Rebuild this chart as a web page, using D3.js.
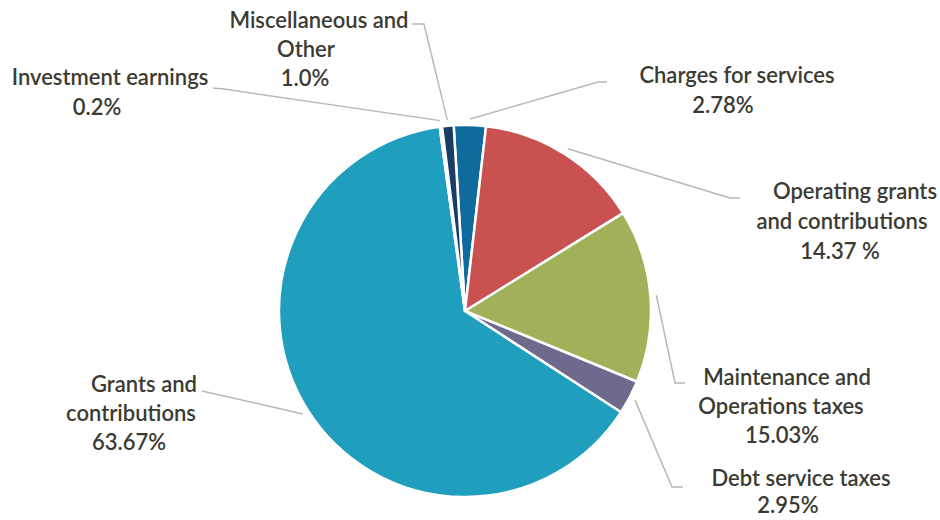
<!DOCTYPE html>
<html><head><meta charset="utf-8">
<script src="https://cdn.jsdelivr.net/npm/d3@7"></script>
<style>html,body{margin:0;padding:0;background:#fff;}svg{display:block;}</style>
</head><body>
<svg id="chart" width="940" height="520"></svg>
<script>
const categories = ["Charges for services","Operating grants and contributions","Maintenance and Operations taxes","Debt service taxes","Grants and contributions","Investment earnings","Miscellaneous and Other"];
const values = [2.78, 14.37, 15.03, 2.95, 63.67, 0.2, 1.0];
const valueLabels = ["2.78%", "14.37 %", "15.03%", "2.95%", "63.67%", "0.2%", "1.0%"];
const labelLines = [["Charges for services"],["Operating grants","and contributions"],["Maintenance and","Operations taxes"],["Debt service taxes"],["Grants and","contributions"],["Investment earnings"],["Miscellaneous and","Other"]];
const colors = ["#0f6a9e", "#c95251", "#a0b159", "#6d6a8e", "#1f9ebd", "#2b5d8a", "#1a3d66"];

// layout
const cx = 465, cy = 311, R = 186;
const lineCenters = [[737,723],[855,842,840],[787,781,782],[801,788],[144,131,129],[110,97],[319,306,305]];
const firstBaseline = [83,199,385,486,392,85,28];
const lineStep = [30,30,29,27,29,30,29];
const leaderStart = [[[607,82],[598,82]],[[740,198],[730,198]],[[685,383],[675,383]],[[683,487],[672,487]],[[202,391]],[[213,88],[224,89]],[[412,24],[424,24]]];

const svg = d3.select("#chart");
const g = svg.append("g").attr("transform", `translate(${cx},${cy})`);
const start = -3.5 * Math.PI / 180;
const pie = d3.pie().sort(null).value(d => d).startAngle(start).endAngle(start + 2 * Math.PI);
const arcs = pie(values);
const arc = d3.arc().innerRadius(0).outerRadius(R);
const outer = d3.arc().innerRadius(R + 6).outerRadius(R + 6);

g.selectAll("path.slice").data(arcs).join("path")
  .attr("class","slice")
  .attr("d", arc)
  .attr("fill", (d,i) => colors[i])
  .attr("stroke", "#fff")
  .attr("stroke-width", 2.5)
  .attr("stroke-linejoin", "round");

// leader lines
const line = d3.line();
arcs.forEach((d, i) => {
  const c = outer.centroid(d);
  const pts = leaderStart[i].concat([[c[0] + cx, c[1] + cy]]);
  svg.append("path").attr("d", line(pts)).attr("fill","none")
    .attr("stroke","#b8b8b8").attr("stroke-width",1.5);
});

// labels
const font = "Lato, 'Open Sans', sans-serif";
arcs.forEach((d, i) => {
  const lines = labelLines[i].concat([valueLabels[i]]);
  lines.forEach((t, j) => {
    svg.append("text")
      .attr("x", lineCenters[i][j])
      .attr("y", firstBaseline[i] + j * lineStep[i])
      .attr("text-anchor","middle")
      .attr("font-family", font)
      .attr("font-size", 22)
      .attr("font-weight", 600)
      .attr("fill", "#3b3b33")
      .text(t);
  });
});
</script>
</body></html>
